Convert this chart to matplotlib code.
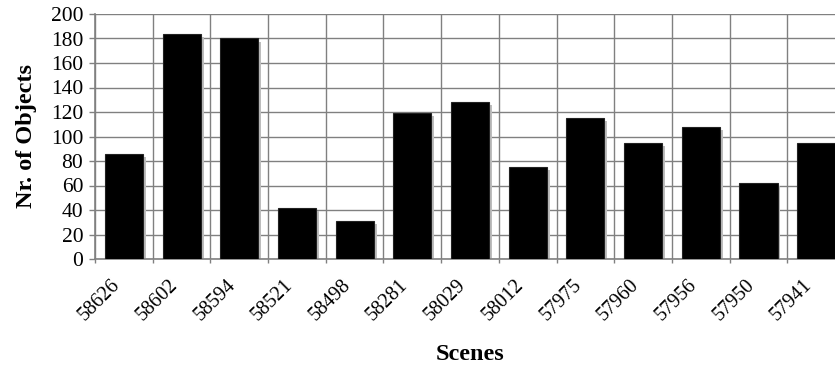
import numpy as np
import matplotlib
matplotlib.use('Agg')
import matplotlib.pyplot as plt

scenes = ['58626', '58602', '58594', '58521', '58498', '58281', '58029',
          '58012', '57975', '57960', '57956', '57950', '57941']
objects = [86, 184, 180, 42, 31, 119, 128, 75, 115, 95, 108, 62, 95]

plt.rcParams['font.family'] = ['Liberation Serif', 'DejaVu Serif']

fig = plt.figure(figsize=(8.35, 3.68), dpi=100)
W, H = 835.0, 368.0
# plot area runs past the right border of the figure
ax = fig.add_axes([95 / W, (H - 259) / H, 750 / W, 245 / H])

x = np.arange(len(scenes)) + 0.5
width = 0.66
dx = 3 / 57.7
dy = 3 / 1.225

# drop shadow behind each bar
ax.bar(x + dx, np.array(objects) - dy, width=width, color='#bdbdbd',
       edgecolor='none', zorder=2)
ax.bar(x, objects, width=width, color='black', edgecolor='#222222',
       linewidth=0.8, zorder=3)

ax.set_xlim(0, len(scenes))
ax.set_ylim(0, 200)
ax.set_yticks(np.arange(0, 201, 20))
ax.set_xticks(x)
ax.set_xticklabels(scenes, rotation=45, ha='right', va='top', fontsize=14.5)
ax.set_xticks(np.arange(0, len(scenes) + 1), minor=True)
ax.tick_params(axis='x', which='major', length=0, pad=12)
ax.tick_params(axis='x', which='minor', length=3, color='#808080', width=1)
ax.tick_params(axis='y', length=4.5, color='#808080', width=1, labelsize=15.5, pad=4)

ax.grid(True, which='minor', axis='x', color='#808080', linewidth=1, zorder=0)
ax.grid(True, which='major', axis='y', color='#808080', linewidth=1, zorder=0)
ax.set_axisbelow(True)

for s in ['top', 'right']:
    ax.spines[s].set_visible(False)
for s in ['left', 'bottom']:
    ax.spines[s].set_color('#808080')
    ax.spines[s].set_linewidth(1.2)

ax.set_ylabel('Nr. of Objects', fontsize=17.5, fontweight='bold', labelpad=10)
fig.text(470 / W, 1 - 354 / H, 'Scenes', fontsize=17.5, fontweight='bold',
         ha='center', va='center')

fig.savefig('out.png', dpi=100)
